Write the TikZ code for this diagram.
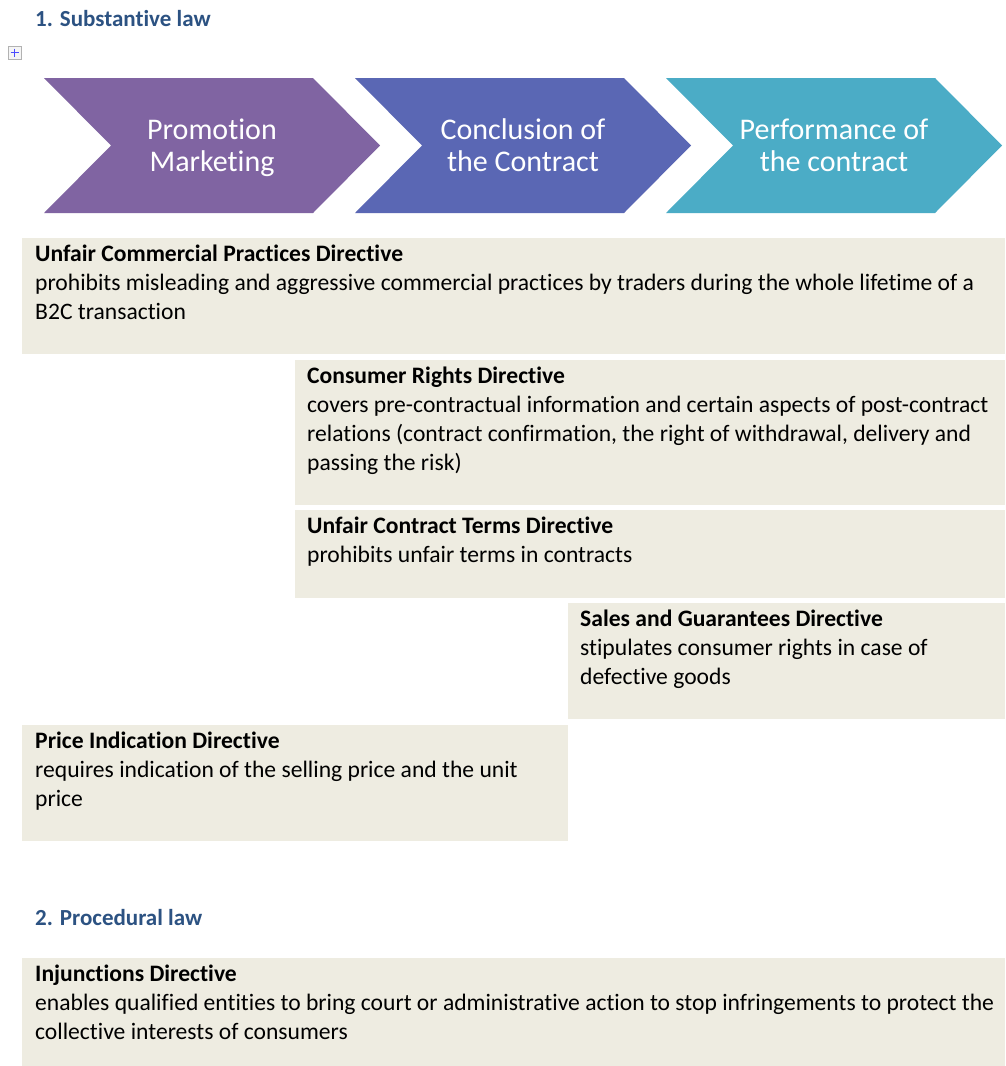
\documentclass[tikz,border=0pt]{standalone}
\usepackage{fontspec}
\setmainfont{Carlito}[Ligatures=NoCommon]

\definecolor{headblue}{RGB}{44,82,130}
\definecolor{promo}{RGB}{128,100,162}
\definecolor{concl}{RGB}{90,103,180}
\definecolor{perf}{RGB}{75,172,198}
\definecolor{boxbg}{RGB}{238,236,225}

\begin{document}
\begin{tikzpicture}[x=1pt,y=-1pt,
    lawhead/.style={anchor=west, inner sep=0, text=headblue, font=\fontsize{23}{27}\selectfont\bfseries},
    chevtext/.style={align=center, inner sep=0, text=white, font=\fontsize{30}{32}\selectfont},
    dirtext/.style={anchor=north west, inner sep=0, align=left, font=\fontsize{23.6}{29}\selectfont}]
	\useasboundingbox[fill=white] (0,0) rectangle (1005,1066);

	\node[lawhead] (subst) at (35,19) {1. Substantive law};

	% little move handle
	\node[draw=gray!60, fill=gray!8, minimum size=13, inner sep=0] (handle) at (14.5,52.5) {};
	\draw[blue!70, line width=0.8] (handle.center) ++(-4,0) -- ++(8,0);
	\draw[blue!70, line width=0.8] (handle.center) ++(0,-4) -- ++(0,8);

	% the three stages
	\foreach \x/\col/\name/\dy/\txt in {44/promo/promotion/2/{Promotion\\Marketing},
			355/concl/conclusion/0/{Conclusion of\\the Contract},
			666/perf/performance/0/{Performance of\\the contract}} {
		\fill[\col] (\x,78) -- (\x+269,78) -- (\x+336,145.5) -- (\x+269,213)
			-- (\x,213) -- (\x+67,145.5) -- cycle;
		\node[chevtext] (\name) at (\x+168,145.5+\dy) {\txt};
	}

	% directives
	\fill[boxbg] (22,238) rectangle (1005,354);
	\node[dirtext] (ucpd) at (35,244.5) {\textbf{Unfair Commercial Practices Directive}\\
		prohibits misleading and aggressive commercial practices by traders during the whole lifetime of a\\
		B2C transaction};

	\fill[boxbg] (295,360) rectangle (1005,505);
	\node[dirtext] (crd) at (307,366.5) {\textbf{Consumer Rights Directive}\\
		covers pre-contractual information and certain aspects of post-contract\\
		relations (contract confirmation, the right of withdrawal, delivery and\\
		passing the risk)};

	\fill[boxbg] (295,510) rectangle (1005,598);
	\node[dirtext] (uctd) at (307,516.5) {\textbf{Unfair Contract Terms Directive}\\
		prohibits unfair terms in contracts};

	\fill[boxbg] (568,603) rectangle (1005,719);
	\node[dirtext] (sgd) at (580,609.5) {\textbf{Sales and Guarantees Directive}\\
		stipulates consumer rights in case of\\
		defective goods};

	\fill[boxbg] (22,725) rectangle (568,841);
	\node[dirtext] (pid) at (35,731.5) {\textbf{Price Indication Directive}\\
		requires indication of the selling price and the unit\\
		price};

	\node[lawhead] (proc) at (35,918) {2. Procedural law};

	\fill[boxbg] (22,958) rectangle (1005,1066);
	\node[dirtext] (injd) at (35,964.5) {\textbf{Injunctions Directive}\\
		enables qualified entities to bring court or administrative action to stop infringements to protect the\\
		collective interests of consumers};
\end{tikzpicture}
\end{document}
